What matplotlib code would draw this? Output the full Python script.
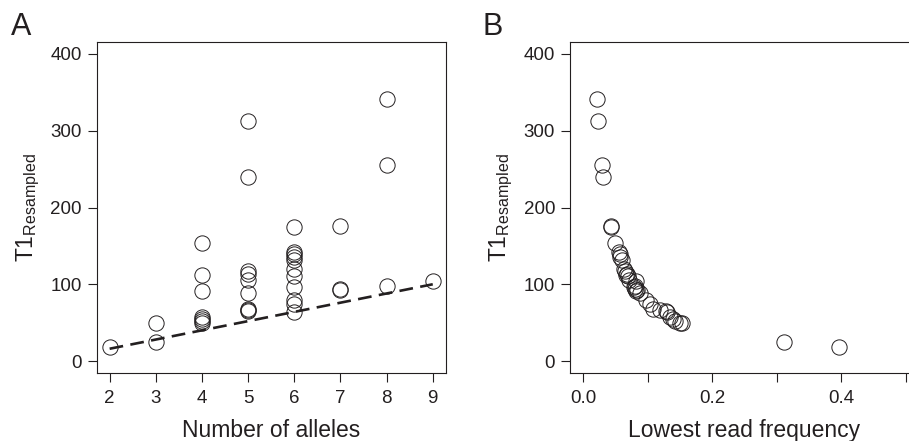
import matplotlib
matplotlib.use("Agg")
import matplotlib.pyplot as plt

plt.rcParams["font.family"] = ["Liberation Sans", "DejaVu Sans"]
plt.rcParams["mathtext.fontset"] = "custom"
plt.rcParams["mathtext.rm"] = "Liberation Sans"
plt.rcParams["mathtext.it"] = "Liberation Sans:italic"

INK = "#231f20"

# number of alleles, T1 resampled and lowest read frequency per locus
alleles = [2, 3, 3, 4, 4, 4, 4, 4, 4, 4,
           5, 5, 5, 5, 5, 5, 5, 5, 5,
           6, 6, 6, 6, 6, 6, 6, 6, 6, 6, 6,
           7, 7, 7, 8, 8, 8, 9]
t1 = [18, 49.5, 25, 154, 112, 91, 58, 55, 52, 50,
      313, 240, 117, 113, 105, 88, 68, 66, 65,
      175, 142, 139, 136, 131, 120, 111, 96, 79, 74, 64,
      176.5, 94, 93, 341, 256, 97.5, 103.7]
low_freq = [0.397, 0.154, 0.312, 0.049, 0.067, 0.082, 0.135, 0.139, 0.143, 0.150,
            0.024, 0.031, 0.065, 0.068, 0.072, 0.089, 0.109, 0.119, 0.128,
            0.043, 0.056, 0.057, 0.058, 0.060, 0.063, 0.069, 0.079, 0.097, 0.104, 0.130,
            0.043, 0.081, 0.083, 0.0216, 0.030, 0.080, 0.082]

# expected line in panel A
line_x = [2, 9]
line_y = [16, 100]

fig = plt.figure(figsize=(9.09, 4.41), dpi=100)
ax_a = fig.add_axes([0.1064, 0.1535, 0.3839, 0.7519])
ax_b = fig.add_axes([0.6271, 0.1535, 0.3837, 0.7519])

ylab = r"T1$_{\mathrm{Resampled}}$"


def style(ax):
    for s in ax.spines.values():
        s.set_color(INK)
        s.set_linewidth(0.8)
    ax.tick_params(direction="out", length=6.8, width=0.8, colors=INK,
                   labelsize=13.5, labelcolor=INK)
    ax.tick_params(axis="x", pad=5)
    ax.tick_params(axis="y", pad=4)
    ax.set_ylim(-16, 416)
    ax.set_yticks([0, 100, 200, 300, 400])
    ax.set_ylabel(ylab, fontsize=16.5, color=INK, labelpad=6)


ax_a.plot(line_x, line_y, color=INK, lw=1.9, linestyle=(0, (5.2, 2.8)))
ax_a.plot(alleles, t1, "o", mfc="none", mec=INK, ms=11, mew=0.7)
style(ax_a)
ax_a.set_xlim(1.72, 9.28)
ax_a.set_xticks(range(2, 10))
ax_a.set_xlabel("Number of alleles", fontsize=16.5, color=INK, labelpad=9)

ax_b.plot(low_freq, t1, "o", mfc="none", mec=INK, ms=11, mew=0.7)
style(ax_b)
ax_b.set_xlim(-0.02, 0.52)
ax_b.set_xticks([0.0, 0.1, 0.2, 0.3, 0.4, 0.5])
ax_b.set_xticklabels(["0.0", "", "0.2", "", "0.4", ""])
ax_b.set_xlabel("Lowest read frequency", fontsize=16.5, color=INK, labelpad=9)

fig.text(0.012, 0.92, "A", fontsize=22, color=INK, ha="left", va="baseline")
fig.text(0.531, 0.92, "B", fontsize=22, color=INK, ha="left", va="baseline")

fig.savefig("out.png", dpi=100)
